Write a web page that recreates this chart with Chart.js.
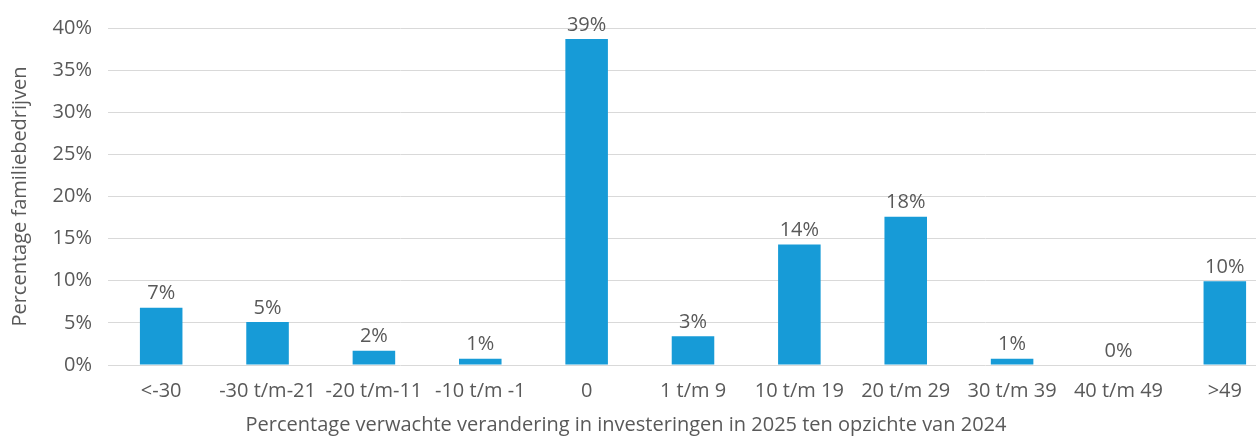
<!DOCTYPE html>
<html>
<head>
<meta charset="utf-8">
<script src="https://cdn.jsdelivr.net/npm/chart.js@4/dist/chart.umd.min.js"></script>
<style>
  html, body { margin: 0; padding: 0; background: #fff; overflow: hidden; }
  #wrap { width: 1256px; height: 436px; overflow: hidden; }
</style>
</head>
<body>
<div id="wrap"><canvas id="invest-chart" width="1278" height="436"></canvas></div>
<script>
const categories = ['<-30', '-30 t/m-21', '-20 t/m-11', '-10 t/m -1', '0', '1 t/m 9', '10 t/m 19', '20 t/m 29', '30 t/m 39', '40 t/m 49', '>49'];
const shares = [6.8, 5.1, 1.7, 0.75, 38.7, 3.4, 14.3, 17.6, 0.75, 0, 9.95];
const yTicks = [0, 5, 10, 15, 20, 25, 30, 35, 40];

const textColor = '#595959';
const fontFamily = '"Open Sans", "Noto Sans", sans-serif';
const fontSize = 20;

// value labels above each bar + the x axis title centred under the visible part
const barLabels = {
  id: 'barLabels',
  afterDatasetsDraw(chart) {
    const ctx = chart.ctx;
    const meta = chart.getDatasetMeta(0);
    ctx.save();
    ctx.font = fontSize + 'px ' + fontFamily;
    ctx.fillStyle = textColor;
    ctx.textAlign = 'center';
    ctx.textBaseline = 'bottom';
    meta.data.forEach((bar, i) => {
      ctx.fillText(Math.round(shares[i]) + '%', bar.x, bar.y - 4);
    });
    ctx.textBaseline = 'middle';
    ctx.fillText('Percentage verwachte verandering in investeringen in 2025 ten opzichte van 2024', 626, 425);
    ctx.restore();
  }
};

new Chart(document.getElementById('invest-chart'), {
  type: 'bar',
  data: {
    labels: categories,
    datasets: [{
      data: shares,
      backgroundColor: '#179bd7',
      barPercentage: 0.40,
      categoryPercentage: 1
    }]
  },
  options: {
    responsive: false,
    animation: false,
    layout: { padding: { top: 26, right: 0, bottom: 0, left: 0 } },
    plugins: {
      legend: { display: false },
      tooltip: { enabled: false }
    },
    scales: {
      x: {
        grid: { display: false },
        border: { display: false },
        ticks: { color: textColor, font: { family: fontFamily, size: fontSize }, padding: 6, maxRotation: 0, autoSkip: false },
        afterFit(scale) { scale.height = 71; }
      },
      y: {
        min: 0,
        max: 40,
        afterBuildTicks(scale) { scale.ticks = yTicks.map(v => ({ value: v })); },
        grid: { color: '#d9d9d9', lineWidth: 1, drawTicks: false },
        border: { display: false },
        ticks: {
          color: textColor,
          font: { family: fontFamily, size: fontSize },
          padding: 16,
          callback: v => v + '%'
        },
        title: {
          display: true,
          text: 'Percentage familiebedrijven',
          color: textColor,
          font: { family: fontFamily, size: fontSize },
          padding: { top: 8, bottom: 0 }
        },
        afterFit(scale) { scale.width = 108; }
      }
    }
  },
  plugins: [barLabels]
});
</script>
</body>
</html>
